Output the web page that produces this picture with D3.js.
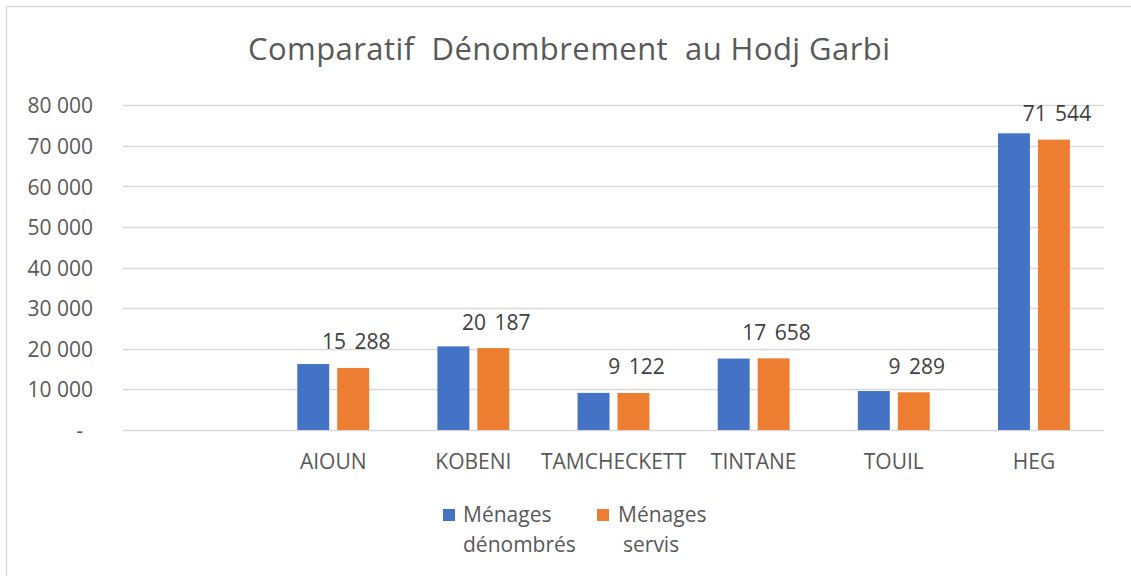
<!DOCTYPE html>
<html>
<head>
<meta charset="utf-8">
<script src="https://cdn.jsdelivr.net/npm/d3@7"></script>
<style>
  html, body { margin: 0; padding: 0; background: #fff; }
  svg { display: block; font-family: "Open Sans", "DejaVu Sans", sans-serif; }
</style>
</head>
<body>
<svg id="chart" width="1131" height="576"></svg>
<script>
const categories = ["", "AIOUN", "KOBENI", "TAMCHECKETT", "TINTANE", "TOUIL", "HEG"];
const menagesDenombres = [null, 16250, 20600, 9150, 17600, 9600, 73100];
const menagesServis = [null, 15288, 20187, 9122, 17658, 9289, 71544];
const servisLabels = [null, "15 288", "20 187", "9 122", "17 658", "9 289", "71 544"];
const yTicks = [0, 10000, 20000, 30000, 40000, 50000, 60000, 70000, 80000];
const yTickLabels = ["-", "10 000", "20 000", "30 000", "40 000", "50 000", "60 000", "70 000", "80 000"];
const seriesNames = [["Ménages", "dénombrés"], ["Ménages", "servis"]];
const titleText = "Comparatif  Dénombrement  au Hodj Garbi";

const colors = ["#4472C4", "#ED7D31"];
const textColor = "#595959";

const svg = d3.select("#chart");

// chart frame
svg.append("rect")
  .attr("x", 6.5).attr("y", 6.5)
  .attr("width", 1140).attr("height", 600)
  .attr("fill", "#fff").attr("stroke", "#d9d9d9").attr("stroke-width", 1.5);

const plot = { left: 123, right: 1104, top: 105.3, bottom: 430 };

const x = d3.scaleBand().domain(categories).range([plot.left, plot.right]).paddingInner(0).paddingOuter(0);
const y = d3.scaleLinear().domain([0, 80000]).range([plot.bottom, plot.top]);

const barW = x.bandwidth() * 0.228;
const gap = 8;
const groupW = barW * 2 + gap;

// gridlines
svg.append("g")
  .selectAll("line").data(yTicks).join("line")
  .attr("x1", plot.left).attr("x2", plot.right)
  .attr("y1", d => Math.round(y(d)) + 0.5).attr("y2", d => Math.round(y(d)) + 0.5)
  .attr("stroke", "#d9d9d9").attr("stroke-width", 1.5);

// y axis labels
const yAxis = d3.axisLeft(y).tickValues(yTicks).tickSize(0).tickPadding(0)
  .tickFormat((d, i) => yTickLabels[i]);
const yg = svg.append("g").attr("transform", `translate(93,0)`).call(yAxis);
yg.select(".domain").remove();
yg.selectAll("text")
  .attr("fill", textColor).attr("font-size", 21)
  .attr("font-family", "'Open Sans', sans-serif")
  .attr("dy", "0.36em")
  .attr("x", (d) => d === 0 ? -10 : 0);

// bars
const series = [menagesDenombres, menagesServis];
series.forEach((vals, si) => {
  svg.append("g").selectAll("rect")
    .data(categories.map((c, i) => ({ c, v: vals[i] })).filter(d => d.v != null))
    .join("rect")
    .attr("x", d => x(d.c) + (x.bandwidth() - groupW) / 2 + si * (barW + gap))
    .attr("y", d => y(d.v))
    .attr("width", barW)
    .attr("height", d => y(0) - y(d.v))
    .attr("fill", colors[si]);
});

// data labels (servis)
svg.append("g").selectAll("text")
  .data(categories.map((c, i) => ({ c, v: menagesServis[i], t: servisLabels[i] })).filter(d => d.v != null))
  .join("text")
  .attr("x", d => x(d.c) + (x.bandwidth() - groupW) / 2 + barW + gap + barW / 2 + 3)
  .attr("y", d => y(d.v) - 18.5)
  .attr("text-anchor", "middle")
  .attr("fill", "#404040").attr("font-size", 21)
  .style("word-spacing", "3px")
  .text(d => d.t);

// x axis labels
const xAxis = d3.axisBottom(x).tickSize(0).tickPadding(0);
const xg = svg.append("g").attr("transform", `translate(0,${plot.bottom})`).call(xAxis);
xg.select(".domain").remove();
xg.selectAll("text")
  .attr("fill", textColor).attr("font-size", 21)
  .attr("font-family", "'Open Sans', sans-serif")
  .attr("y", 39).attr("dy", 0);

// title
svg.append("text")
  .attr("x", 569).attr("y", 60)
  .attr("text-anchor", "middle")
  .attr("fill", textColor).attr("font-size", 31)
  .attr("textLength", 642).attr("lengthAdjust", "spacing")
  .style("white-space", "pre")
  .text(titleText);

// legend
const legendX = [443, 597];
const legendTextX = [[463, 463], [618, 623]];
seriesNames.forEach((lines, i) => {
  const g = svg.append("g");
  g.append("rect").attr("x", legendX[i]).attr("y", 509).attr("width", 12).attr("height", 12).attr("fill", colors[i]);
  lines.forEach((ln, j) => {
    g.append("text")
      .attr("x", legendTextX[i][j]).attr("y", 522 + j * 30)
      .attr("fill", textColor).attr("font-size", 21)
      .text(ln);
  });
});
</script>
</body>
</html>
